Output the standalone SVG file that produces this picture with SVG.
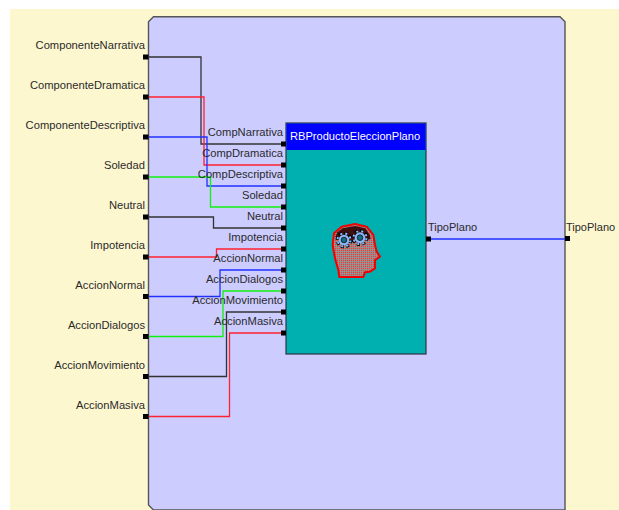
<svg xmlns="http://www.w3.org/2000/svg" width="619" height="510" viewBox="0 0 619 510">
<style>
text{font-family:"Liberation Sans",Arial,sans-serif;font-size:11.2px;fill:#2a2a2a}
.r{text-anchor:end}
.w{fill:#fff;font-size:11.1px}
.t{font-size:11px}
.p{fill:#000}
.c{fill:none;stroke-width:1.3}
.k{stroke:#333}
.e{stroke:#ff2030}
.b{stroke:#2030ff}
.g{stroke:#10f010}
</style>
<defs>
<pattern id="dither" width="6" height="6" patternUnits="userSpaceOnUse">
<rect width="6" height="6" fill="#b08080"/>
<rect width="3" height="3" fill="#80a0a0"/>
<rect x="3" y="3" width="3" height="3" fill="#e04040"/>
</pattern>
<g id="gear">
<circle r="20" fill="none" stroke="#000" stroke-width="10" stroke-dasharray="9 6.700"/>
<circle r="19.500" fill="none" stroke="#8ab8f8" stroke-width="6" stroke-dasharray="6 9.300" stroke-dashoffset="-1.500"/>
<circle r="16" fill="#8ab8f8"/>
<circle r="8.500" fill="#1a6a80" stroke="#000" stroke-width="2"/>
</g>
</defs>
<rect x="10" y="9" width="609" height="501" fill="#fdf7d0"/>
<path id="panel" d="M153.500 16.800H560L565 21.800V510H153.500L148.500 505V21.800Z" fill="#ccccff" stroke="#555" stroke-width="1.400"/>
<g id="connectors">
<path class="c k" d="M149 57H201V144H282"/>
<path class="c e" d="M149 97H204V165H282"/>
<path class="c b" d="M149 137H207V186H282"/>
<path class="c g" d="M149 177H210.500V207H282"/>
<path class="c k" d="M149 217H213.500V228H282"/>
<path class="c e" d="M149 257H216.500V249H282"/>
<path class="c b" d="M149 296.500H220V270H282"/>
<path class="c g" d="M149 336.500H223V291H282"/>
<path class="c k" d="M149 376.500H226.500V312H282"/>
<path class="c e" d="M149 416.500H229.500V333H282"/>
<path class="c b" d="M430 239H566"/>
</g>
<g id="block">
<rect x="286" y="123" width="140" height="231" fill="#00b0b0" stroke="#334" stroke-width="1.200"/>
<rect x="286.500" y="123.500" width="139" height="26.500" fill="#0000ff"/>
<text class="w" x="290" y="140">RBProductoEleccionPlano</text>
<g id="head" transform="translate(320 215) scale(.3333)">
<path d="M58 186L55 165L45 130L38 90L42 55L65 35L105 27L140 35L160 60L165 90L170 110L180 125L165 135L165 160L150 170L135 172L130 186Z" fill="url(#dither)" stroke="#f00000" stroke-width="6" stroke-linejoin="round"/>
<path d="M46 65L52 52L68 40L105 33L136 40L150 60L152 72L120 80L75 85Z" fill="#401010"/>
<use href="#gear" transform="translate(72 75)"/>
<use href="#gear" transform="translate(120 68)"/>
</g>
</g>
<g id="inputs">
<g id="in1"><text class="r" x="145" y="49">ComponenteNarrativa</text><rect class="p" x="143" y="54.500" width="5.500" height="5"/></g>
<g id="in2"><text class="r" x="145" y="89">ComponenteDramatica</text><rect class="p" x="143" y="94.500" width="5.500" height="5"/></g>
<g id="in3"><text class="r" x="145" y="129">ComponenteDescriptiva</text><rect class="p" x="143" y="134.500" width="5.500" height="5"/></g>
<g id="in4"><text class="r" x="145" y="169">Soledad</text><rect class="p" x="143" y="174.500" width="5.500" height="5"/></g>
<g id="in5"><text class="r" x="145" y="209">Neutral</text><rect class="p" x="143" y="214.500" width="5.500" height="5"/></g>
<g id="in6"><text class="r" x="145" y="249">Impotencia</text><rect class="p" x="143" y="254.500" width="5.500" height="5"/></g>
<g id="in7"><text class="r" x="145" y="289">AccionNormal</text><rect class="p" x="143" y="294" width="5.500" height="5"/></g>
<g id="in8"><text class="r" x="145" y="329">AccionDialogos</text><rect class="p" x="143" y="334" width="5.500" height="5"/></g>
<g id="in9"><text class="r" x="145" y="369">AccionMovimiento</text><rect class="p" x="143" y="374" width="5.500" height="5"/></g>
<g id="in10"><text class="r" x="145" y="409">AccionMasiva</text><rect class="p" x="143" y="414" width="5.500" height="5"/></g>
</g>
<g id="block-ports">
<g><text class="r" x="283" y="136">CompNarrativa</text><rect class="p" x="281" y="141.500" width="5" height="5"/></g>
<g><text class="r" x="283" y="157">CompDramatica</text><rect class="p" x="281" y="162.500" width="5" height="5"/></g>
<g><text class="r" x="283" y="178">CompDescriptiva</text><rect class="p" x="281" y="183.500" width="5" height="5"/></g>
<g><text class="r" x="283" y="199">Soledad</text><rect class="p" x="281" y="204.500" width="5" height="5"/></g>
<g><text class="r" x="283" y="220">Neutral</text><rect class="p" x="281" y="225.500" width="5" height="5"/></g>
<g><text class="r" x="283" y="241">Impotencia</text><rect class="p" x="281" y="246.500" width="5" height="5"/></g>
<g><text class="r" x="283" y="262">AccionNormal</text><rect class="p" x="281" y="267.500" width="5" height="5"/></g>
<g><text class="r" x="283" y="283">AccionDialogos</text><rect class="p" x="281" y="288.500" width="5" height="5"/></g>
<g><text class="r" x="283" y="304">AccionMovimiento</text><rect class="p" x="281" y="309.500" width="5" height="5"/></g>
<g><text class="r" x="283" y="325">AccionMasiva</text><rect class="p" x="281" y="330.500" width="5" height="5"/></g>
<g><text class="t" x="428" y="231">TipoPlano</text><rect class="p" x="426" y="236.500" width="5" height="5"/></g>
</g>
<g id="output"><text class="t" x="566" y="231">TipoPlano</text><rect class="p" x="565" y="236" width="5" height="5"/></g>
</svg>
